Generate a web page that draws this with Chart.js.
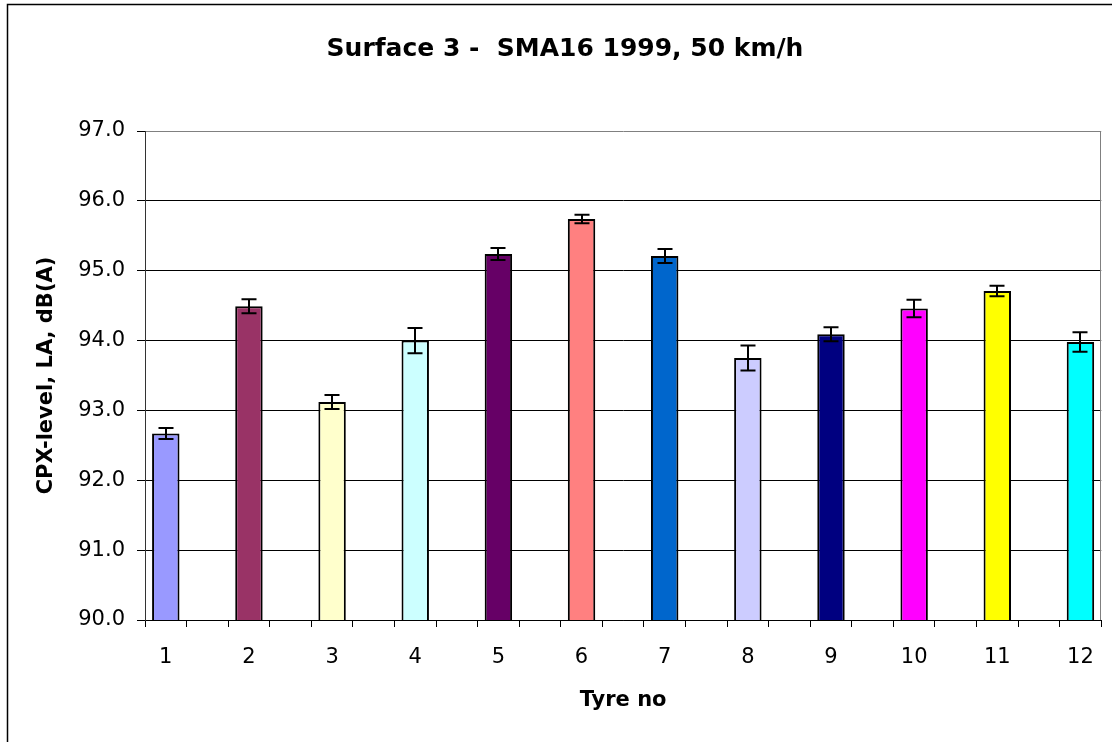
<!DOCTYPE html>
<html><head><meta charset="utf-8">
<script src="https://cdn.jsdelivr.net/npm/chart.js@4.4.1/dist/chart.umd.min.js"></script>
<style>html,body{margin:0;padding:0;background:#fff;}canvas{display:block;}</style>
</head><body>
<canvas id="c" width="1112" height="742"></canvas>
<script>
// One slot per tyre, with an empty slot between neighbouring tyres (as in the original chart)
const tyres = ['1','2','3','4','5','6','7','8','9','10','11','12'];
const levels = [92.67, 94.49, 93.12, 94.00, 95.24, 95.74, 95.21, 93.75, 94.09, 94.46, 94.71, 93.98];
const errors = [0.08, 0.10, 0.10, 0.18, 0.085, 0.06, 0.10, 0.18, 0.10, 0.125, 0.075, 0.14];
const barColors = ['#9999FF','#993366','#FFFFCC','#CCFFFF','#660066','#FF8080','#0066CC','#CCCCFF','#000080','#FF00FF','#FFFF00','#00FFFF'];
const titleText = 'Surface 3 -  SMA16 1999, 50 km/h';
const yTitle = 'CPX-level, LA, dB(A)';
const xTitle = 'Tyre no';
const yMin = 90, yMax = 97, yStep = 1;

// Build slotted arrays (tyre, gap, tyre, gap, ..., tyre)
const slotLabels = tyres.flatMap((t, i) => (i ? ['', t] : [t]));
const slotValues = levels.flatMap((v, i) => (i ? [null, v] : [v]));
const slotColors = barColors.flatMap((c, i) => (i ? ['#fff', c] : [c]));

const frame = {
  id: 'frame',
  beforeDraw(chart) {
    const ctx = chart.ctx;
    ctx.save();
    ctx.fillStyle = '#fff';
    ctx.fillRect(0, 0, chart.width, chart.height);
    ctx.strokeStyle = '#000';
    ctx.lineWidth = 1.5;
    ctx.beginPath();
    ctx.moveTo(7.5, chart.height);
    ctx.lineTo(7.5, 4.5);
    ctx.lineTo(chart.width, 4.5);
    ctx.stroke();
    ctx.restore();
  },
  beforeDatasetsDraw(chart) {
    const {ctx, chartArea: a} = chart;
    ctx.save();
    ctx.strokeStyle = '#808080';
    ctx.lineWidth = 1;
    ctx.beginPath();
    ctx.moveTo(Math.round(a.right) - 0.5, a.top);
    ctx.lineTo(Math.round(a.right) - 0.5, a.bottom);
    ctx.stroke();
    ctx.restore();
  }
};

const errorBars = {
  id: 'errorBars',
  afterDatasetsDraw(chart) {
    const {ctx, scales: {y}} = chart;
    const meta = chart.getDatasetMeta(0);
    ctx.save();
    ctx.strokeStyle = '#000';
    ctx.lineWidth = 2;
    levels.forEach((v, i) => {
      const bar = meta.data[2 * i];
      const x = Math.round(bar.x);
      const hi = y.getPixelForValue(v + errors[i]);
      const lo = y.getPixelForValue(v - errors[i]);
      const cap = 7.5;
      ctx.beginPath();
      ctx.moveTo(x, hi); ctx.lineTo(x, lo);
      ctx.moveTo(x - cap, hi); ctx.lineTo(x + cap, hi);
      ctx.moveTo(x - cap, lo); ctx.lineTo(x + cap, lo);
      ctx.stroke();
    });
    ctx.restore();
  }
};

Chart.defaults.font.family = "'DejaVu Sans', sans-serif";
Chart.defaults.color = '#000';

new Chart(document.getElementById('c'), {
  type: 'bar',
  data: {
    labels: slotLabels,
    datasets: [{
      data: slotValues,
      backgroundColor: slotColors,
      borderColor: '#000',
      borderWidth: 2,
      borderSkipped: false,
      barPercentage: 1,
      categoryPercentage: 0.66
    }]
  },
  options: {
    responsive: false,
    devicePixelRatio: 1,
    animation: false,
    layout: { padding: { left: 27, right: 9, top: 0, bottom: 0 } },
    plugins: {
      legend: { display: false },
      tooltip: { enabled: false },
      title: {
        display: true,
        text: titleText,
        font: { size: 25, weight: 'bold' },
        color: '#000',
        padding: { top: 34, bottom: 67 }
      }
    },
    scales: {
      x: {
        grid: { offset: true, drawOnChartArea: false, drawTicks: true, tickLength: 7, color: '#000', tickColor: '#000' },
        border: { color: '#000', width: 1 },
        ticks: { font: { size: 21 }, padding: 18, color: '#000', autoSkip: false, maxRotation: 0 },
        title: { display: true, text: xTitle, font: { size: 21, weight: 'bold' }, color: '#000', padding: { top: 0, bottom: 29 } },
        afterFit(s) { s.height = 122; }
      },
      y: {
        min: yMin, max: yMax,
        grid: {
          color: (c) => (c.tick && c.tick.value === yMax ? '#808080' : '#000'),
          tickColor: '#000',
          tickLength: 8,
          lineWidth: 1
        },
        border: { color: '#333', width: 1 },
        ticks: { stepSize: yStep, font: { size: 21 }, padding: 12, color: '#000', callback: (v) => Number(v).toFixed(1) },
        title: { display: true, text: yTitle, font: { size: 21, weight: 'bold' }, color: '#000', padding: { top: 7, bottom: 0 } },
        afterFit(s) { s.width = 118; }
      }
    }
  },
  plugins: [frame, errorBars]
});
</script>
</body></html>
